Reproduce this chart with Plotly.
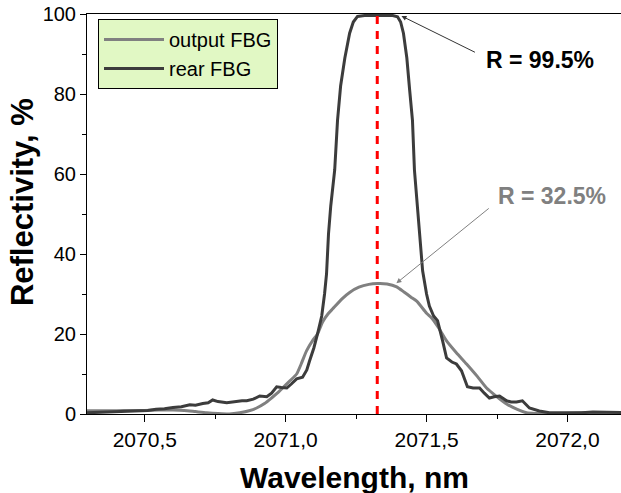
import plotly.graph_objects as go

# ---- data ----
rear_wl = [2070.295, 2070.34, 2070.38, 2070.41, 2070.45, 2070.48, 2070.51, 2070.54, 2070.57, 2070.60,
           2070.63, 2070.66, 2070.68, 2070.706, 2070.725, 2070.741, 2070.76, 2070.791, 2070.82, 2070.845,
           2070.862, 2070.885, 2070.908, 2070.933, 2070.95, 2070.968, 2070.985, 2071.004, 2071.02, 2071.039,
           2071.06, 2071.075, 2071.085, 2071.10, 2071.113, 2071.128, 2071.138, 2071.145, 2071.152, 2071.16,
           2071.174, 2071.184, 2071.195, 2071.21, 2071.227, 2071.24, 2071.255, 2071.28, 2071.33, 2071.38,
           2071.397, 2071.408, 2071.418, 2071.43, 2071.44, 2071.45, 2071.457, 2071.472, 2071.486, 2071.50,
           2071.51, 2071.525, 2071.539, 2071.557, 2071.571, 2071.59, 2071.606, 2071.624, 2071.645, 2071.665,
           2071.688, 2071.705, 2071.723, 2071.74, 2071.759, 2071.784, 2071.80, 2071.819, 2071.84, 2071.865,
           2071.90, 2071.936, 2071.97, 2072.01, 2072.05, 2072.09, 2072.13, 2072.19]
rear_R = [0.3, 0.4, 0.5, 0.6, 0.6, 0.8, 0.9, 1.2, 1.3, 1.6,
          1.8, 2.3, 2.2, 2.6, 2.8, 3.5, 3.1, 2.8, 3.1, 3.3,
          3.3, 3.7, 4.5, 4.3, 5.2, 6.8, 6.6, 6.5, 7.5, 8.8,
          9.2, 11.0, 13.3, 16.5, 20.0, 24.5, 30.0, 35.0, 45.0, 52.0,
          61.0, 73.4, 82.0, 89.0, 95.2, 98.0, 99.4, 99.6, 99.6, 99.6,
          99.3, 98.0, 95.2, 89.0, 81.0, 73.4, 61.0, 48.4, 35.8, 30.0,
          27.0, 24.5, 23.3, 18.3, 14.0, 13.0, 12.5, 10.8, 6.8, 6.5,
          6.5, 5.2, 4.0, 4.3, 4.5, 3.3, 3.0, 3.0, 3.3, 1.5,
          0.75, 0.3, 0.3, 0.4, 0.3, 0.5, 0.4, 0.4]

out_wl = [2070.295, 2070.35, 2070.40, 2070.45, 2070.50, 2070.55, 2070.60, 2070.64, 2070.68, 2070.72,
          2070.76, 2070.80, 2070.837, 2070.87, 2070.897, 2070.925, 2070.95, 2070.97, 2070.989, 2071.015,
          2071.039, 2071.055, 2071.074, 2071.095, 2071.113, 2071.131, 2071.15, 2071.167, 2071.20, 2071.227,
          2071.26, 2071.295, 2071.326, 2071.36, 2071.394, 2071.42, 2071.445, 2071.465, 2071.50, 2071.518,
          2071.545, 2071.571, 2071.605, 2071.642, 2071.68, 2071.713, 2071.75, 2071.784, 2071.82, 2071.855,
          2071.89, 2071.93, 2071.97, 2072.01, 2072.06, 2072.12, 2072.19]
out_R = [0.8, 0.8, 0.8, 0.9, 0.9, 1.0, 1.0, 0.9, 0.6, 0.3,
         0.1, 0.0, 0.3, 0.8, 1.5, 2.6, 4.0, 5.2, 6.5, 8.3,
         10.0, 12.5, 15.8, 18.3, 20.0, 23.0, 25.0, 26.3, 28.8, 30.4,
         31.7, 32.4, 32.6, 32.5, 31.8, 30.5, 29.2, 28.2, 25.2, 24.0,
         21.3, 18.3, 15.4, 12.5, 9.4, 6.5, 4.3, 2.5, 1.2, 0.3,
         0.1, 0.0, 0.1, 0.2, 0.3, 0.3, 0.3]

center_wl = 2071.325
series_names = ["output FBG", "rear FBG"]
label_rear = "R = 99.5%"
label_out = "R = 32.5%"
x_tick_vals = [2070.5, 2071.0, 2071.5, 2072.0]
y_tick_vals = [0, 20, 40, 60, 80, 100]

FONT = "Liberation Sans, Arial, sans-serif"
GRAY = "#808080"
DARK = "#3c3c3c"

fig = go.Figure()
fig.add_trace(go.Scatter(x=out_wl, y=out_R, mode="lines", name=series_names[0],
                         line=dict(color=GRAY, width=3, shape="spline", smoothing=0.6)))
fig.add_trace(go.Scatter(x=rear_wl, y=rear_R, mode="lines", name=series_names[1],
                         line=dict(color=DARK, width=3)))

# red dashed centre line
fig.add_shape(type="line", xref="x", yref="y", x0=center_wl, x1=center_wl, y0=0, y1=100,
              line=dict(color="#ff0000", width=3, dash="8px,7px"))

# annotations
fig.add_annotation(x=2071.904, y=88.5, xref="x", yref="y", text="<b>" + label_rear + "</b>",
                   showarrow=False, font=dict(family=FONT, size=23, color="#000000"))
fig.add_annotation(x=2071.411, y=99.5, ax=2071.677, ay=90.25, xref="x", yref="y",
                   axref="x", ayref="y", text="", showarrow=True, arrowhead=2, arrowsize=1,
                   arrowwidth=1, arrowcolor="#333333")
fig.add_annotation(x=2071.945, y=54.4, xref="x", yref="y", text="<b>" + label_out + "</b>",
                   showarrow=False, font=dict(family=FONT, size=23, color=GRAY))
fig.add_annotation(x=2071.393, y=32.7, ax=2071.726, ay=51.7, xref="x", yref="y",
                   axref="x", ayref="y", text="", showarrow=True, arrowhead=2, arrowsize=1,
                   arrowwidth=1, arrowcolor=GRAY)

# axis titles
fig.add_annotation(x=0.5, y=-0.1575, xref="paper", yref="paper", text="<b>Wavelength, nm</b>",
                   showarrow=False, font=dict(family=FONT, size=30, color="#000000"),
                   xanchor="center", yanchor="middle")
fig.add_annotation(x=-0.1208, y=0.531, xref="paper", yref="paper", text="<b>Reflectivity, %</b>",
                   showarrow=False, textangle=-90, font=dict(family=FONT, size=31, color="#000000"),
                   xanchor="center", yanchor="middle")

fig.update_layout(
    width=621, height=493,
    margin=dict(l=87, r=0, t=14, b=79),
    paper_bgcolor="white", plot_bgcolor="white",
    separators=",.",
    font=dict(family=FONT, color="#000000"),
    showlegend=True,
    legend=dict(x=0.0206, y=0.9875, xanchor="left", yanchor="top",
                bgcolor="#e1f8c4", bordercolor="#000000", borderwidth=1,
                font=dict(family=FONT, size=20, color="#000000"),
                itemwidth=60, tracegroupgap=0),
    xaxis=dict(range=[2070.295, 2072.19], tickvals=x_tick_vals, tickformat=".1f",
               showgrid=False, zeroline=False, showline=True, linecolor="#000000", linewidth=1,
               mirror=True, ticks="outside", ticklen=7, tickwidth=1, tickcolor="#000000",
               tickfont=dict(family=FONT, size=21, color="#000000"),
               minor=dict(dtick=0.25, tick0=2070.5, ticks="outside", ticklen=4, tickcolor="#000000")),
    yaxis=dict(range=[0, 100], tickvals=y_tick_vals,
               showgrid=False, zeroline=False, showline=True, linecolor="#000000", linewidth=1,
               ticks="outside", ticklen=6, tickwidth=1, tickcolor="#000000",
               tickfont=dict(family=FONT, size=20, color="#000000"),
               minor=dict(dtick=10, tick0=0, ticks="outside", ticklen=4, tickcolor="#000000")),
)

fig.write_html("out.html")
